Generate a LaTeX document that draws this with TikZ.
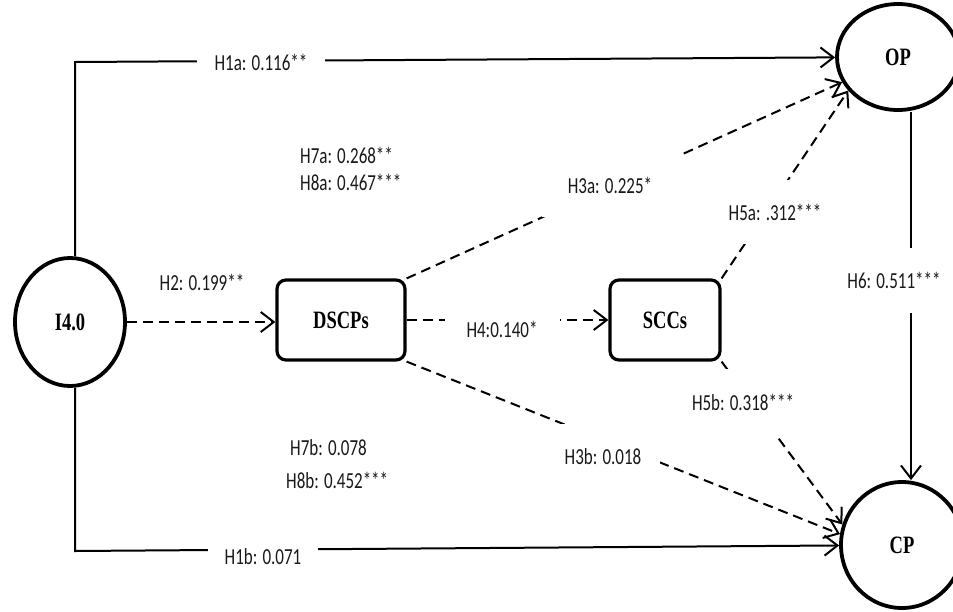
\documentclass[tikz,border=0pt]{standalone}
\usepackage{fontspec}
\setmainfont{Liberation Serif}
\newfontfamily\lblfont{Carlito}
\usetikzlibrary{arrows.meta,shapes.geometric,calc}
\newcommand\mystretch[1]{\scalebox{1}[1.35]{#1}}
\begin{document}
\begin{tikzpicture}[x=1pt,y=-1pt,
  latent/.style={ellipse, draw, line width=3.8pt, inner sep=0pt, font=\fontsize{18.5}{22}\selectfont\bfseries},
  construct/.style={rectangle, rounded corners=9pt, draw, line width=3.2pt, minimum height=80pt, font=\fontsize{18.5}{22}\selectfont\bfseries},
  lbl/.style={font=\lblfont\fontsize{17}{20}\selectfont, text=black!90, inner sep=0pt},
  gap/.style={lbl, fill=white},
  solidpath/.style={line width=2pt},
  dashpath/.style={line width=2pt, dash pattern=on 10pt off 6pt},
  arr/.style={-{Straight Barb[length=13pt,width=20pt]}},
]
\useasboundingbox (0,0) rectangle (953,611);

% constructs
\node[latent, minimum width=110pt, minimum height=128pt] (I) at (70,322) {\mystretch{I4.0}};
\node[latent, minimum width=122pt, minimum height=106pt] (OP) at (898,57) {\mystretch{OP}};
\node[latent, minimum width=122pt, minimum height=126pt] (CP) at (902,545) {\mystretch{CP}};
\node[construct, minimum width=128pt] (DSCPs) at (341,320) {\mystretch{DSCPs}};
\node[construct, minimum width=110pt] (SCCs) at (665,320) {\mystretch{SCCs}};

\coordinate (tl) at (75,62);
\coordinate (bl) at (75,551);
\coordinate (h6) at (911,0);

% connectors
\draw[solidpath,arr] (I.north -| tl) -- (tl) -- (OP);
\draw[solidpath,arr] (I.south -| bl) -- (bl) -- (CP);
\draw[dashpath,arr] (I.east) -- (I.east -| DSCPs.west);
\draw[dashpath,arr] (DSCPs.north east) -- (OP);
\draw[dashpath,arr] (DSCPs.south east) -- (CP.170);
\draw[dashpath,arr] (DSCPs) -- (SCCs);
\draw[dashpath,arr] (SCCs.north east) -- (OP.214);
\draw[dashpath,arr] (SCCs.south east) -- (CP.161);
\draw[solidpath,arr] (OP.south -| h6) -- (CP.north -| h6);

% labels
\node[gap, minimum width=128pt, minimum height=24pt] (l1a) at (261,62) {\mystretch{H1a: 0.116**}};
\node[gap, minimum width=110pt, minimum height=30pt] (l1b) at (263,557) {\mystretch{H1b: 0.071}};
\node[lbl] (l2) at (202,282) {\mystretch{H2: 0.199**}};
\node[gap, minimum width=115pt, minimum height=30pt] (l4) at (502,329) {\mystretch{H4:0.140*}};
\node[gap, minimum width=137pt, minimum height=64pt] (l3a) at (610,185) {\mystretch{H3a: 0.225*}};
\node[gap, minimum width=100pt, minimum height=64pt] (l5a) at (775,212) {\mystretch{H5a: .312***}};
\node[gap, minimum width=94pt, minimum height=65pt] (l6) at (894,280) {\mystretch{H6: 0.511***}};
\node[gap, minimum width=104pt, minimum height=67pt] (l5b) at (743,402) {\mystretch{H5b: 0.318***}};
\node[gap, minimum width=114pt, minimum height=66pt] (l3b) at (603,457) {\mystretch{H3b: 0.018}};
\node[lbl, anchor=west] (l7a) at (300,155) {\mystretch{H7a: 0.268**}};
\node[lbl, anchor=west] (l8a) at (300,182) {\mystretch{H8a: 0.467***}};
\node[lbl, anchor=west] (l7b) at (290,448) {\mystretch{H7b: 0.078}};
\node[lbl, anchor=west] (l8b) at (286,480) {\mystretch{H8b: 0.452***}};
\end{tikzpicture}
\end{document}
